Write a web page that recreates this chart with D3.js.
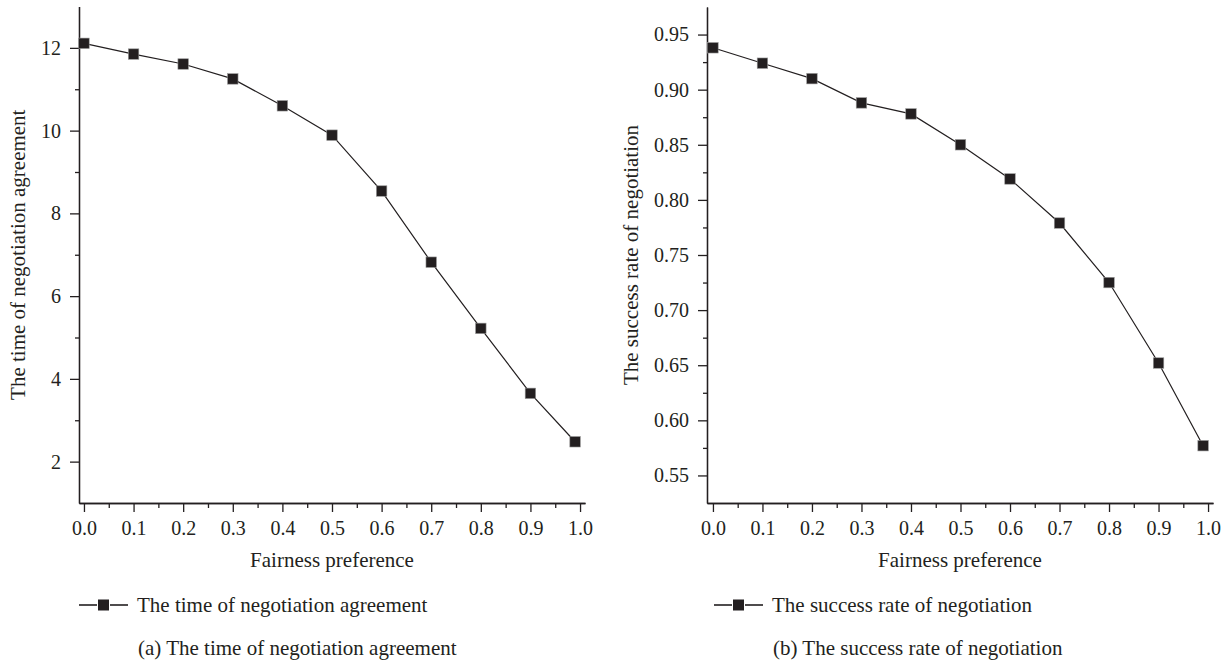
<!DOCTYPE html>
<html>
<head>
<meta charset="utf-8">
<script src="https://cdn.jsdelivr.net/npm/d3@7"></script>
<style>
    body { margin: 0; background: #fff; }
    svg { display: block; }
    text { font-family: "Liberation Serif", "Times New Roman", serif; fill: #231f20; }
</style>
</head>
<body>
<svg id="chart" width="1232" height="665"></svg>
<script>
// fairness preference (x) shared by both panels
var fairness = [0.0, 0.1, 0.2, 0.3, 0.4, 0.5, 0.6, 0.7, 0.8, 0.9, 0.99];
var agreementTime = [12.11, 11.85, 11.61, 11.25, 10.6, 9.89, 8.54, 6.82, 5.22, 3.65, 2.48];
var successRate = [0.938, 0.924, 0.910, 0.888, 0.878, 0.850, 0.819, 0.779, 0.725, 0.652, 0.577];

var xTicks = [0.0, 0.1, 0.2, 0.3, 0.4, 0.5, 0.6, 0.7, 0.8, 0.9, 1.0];
var xMinorTicks = [0.05, 0.15, 0.25, 0.35, 0.45, 0.55, 0.65, 0.75, 0.85, 0.95];
var timeTicks = [2, 4, 6, 8, 10, 12];
var timeMinorTicks = [3, 5, 7, 9, 11];
var rateTicks = [0.55, 0.60, 0.65, 0.70, 0.75, 0.80, 0.85, 0.90, 0.95];
var rateMinorTicks = [0.575, 0.625, 0.675, 0.725, 0.775, 0.825, 0.875, 0.925];

var INK = '#231f20';
var svg = d3.select('#chart');

var panels = [
    {
        values: agreementTime,
        xDomain: [-0.01, 1.01], xRange: [79, 585],
        yDomain: [1, 13], yRange: [503, 6.5],
        yTicks: timeTicks, yMinor: timeMinorTicks, yFormat: d3.format('d'),
        yTitle: 'The time of negotiation agreement', yTitleX: 25,
        legend: 'The time of negotiation agreement', legendX: 79,
        caption: '(a) The time of negotiation agreement', captionX: 138
    },
    {
        values: successRate,
        xDomain: [-0.012, 1.01], xRange: [707, 1213],
        yDomain: [0.525, 0.975], yRange: [503, 7],
        yTicks: rateTicks, yMinor: rateMinorTicks, yFormat: d3.format('.2f'),
        yTitle: 'The success rate of negotiation', yTitleX: 638,
        legend: 'The success rate of negotiation', legendX: 714,
        caption: '(b) The success rate of negotiation', captionX: 773
    }
];

function styleAxis(g) {
    g.select('.domain').attr('stroke', INK).attr('stroke-width', 1.3);
    g.selectAll('.tick line').attr('stroke', INK).attr('stroke-width', 1.3);
    g.selectAll('.tick text')
        .style('font-size', '20px')
        .attr('fill', INK);
}

function drawPanel(p) {
    var x = d3.scaleLinear().domain(p.xDomain).range(p.xRange);
    var y = d3.scaleLinear().domain(p.yDomain).range(p.yRange);
    var bottom = p.yRange[0];
    var left = p.xRange[0];

    // minor ticks first, then major ticks with labels
    svg.append('g')
        .attr('transform', 'translate(0,' + bottom + ')')
        .call(d3.axisBottom(x).tickValues(xMinorTicks).tickSize(5).tickFormat('').tickSizeOuter(0))
        .call(styleAxis);
    svg.append('g')
        .attr('transform', 'translate(0,' + bottom + ')')
        .call(d3.axisBottom(x).tickValues(xTicks).tickSize(9).tickPadding(9)
            .tickFormat(d3.format('.1f')).tickSizeOuter(0))
        .call(styleAxis);

    svg.append('g')
        .attr('transform', 'translate(' + left + ',0)')
        .call(d3.axisLeft(y).tickValues(p.yMinor).tickSize(4).tickFormat('').tickSizeOuter(0))
        .call(styleAxis);
    svg.append('g')
        .attr('transform', 'translate(' + left + ',0)')
        .call(d3.axisLeft(y).tickValues(p.yTicks).tickSize(9).tickPadding(9)
            .tickFormat(p.yFormat).tickSizeOuter(0))
        .call(styleAxis);

    // axis titles
    svg.append('text')
        .attr('x', (p.xRange[0] + p.xRange[1]) / 2)
        .attr('y', 567)
        .attr('text-anchor', 'middle')
        .style('font-size', '21px')
        .text('Fairness preference');

    var midY = (p.yRange[0] + p.yRange[1]) / 2;
    svg.append('text')
        .attr('transform', 'translate(' + p.yTitleX + ',' + midY + ') rotate(-90)')
        .attr('text-anchor', 'middle')
        .style('font-size', '21px')
        .text(p.yTitle);

    // series
    var pts = fairness.map(function (f, i) { return [f, p.values[i]]; });
    var line = d3.line()
        .x(function (d) { return x(d[0]); })
        .y(function (d) { return y(d[1]); });

    svg.append('path')
        .datum(pts)
        .attr('fill', 'none')
        .attr('stroke', INK)
        .attr('stroke-width', 1.2)
        .attr('d', line);

    var m = 10.5; // marker size
    svg.append('g').selectAll('rect')
        .data(pts)
        .enter().append('rect')
        .attr('x', function (d) { return x(d[0]) - m / 2; })
        .attr('y', function (d) { return y(d[1]) - m / 2; })
        .attr('width', m)
        .attr('height', m)
        .attr('fill', INK)
        .attr('stroke', '#9a9a9a')
        .attr('stroke-width', 0.6);

    // legend: dash, square, dash, label
    var ly = 605;
    var lg = svg.append('g');
    [[0, 18], [31, 49]].forEach(function (seg) {
        lg.append('line')
            .attr('x1', p.legendX + seg[0]).attr('x2', p.legendX + seg[1])
            .attr('y1', ly).attr('y2', ly)
            .attr('stroke', INK).attr('stroke-width', 1.6);
    });
    lg.append('rect')
        .attr('x', p.legendX + 24.5 - 5.5).attr('y', ly - 5.5)
        .attr('width', 11).attr('height', 11)
        .attr('fill', INK);
    lg.append('text')
        .attr('x', p.legendX + 58)
        .attr('y', 612)
        .style('font-size', '21px')
        .text(p.legend);

    // caption under the panel
    svg.append('text')
        .attr('x', p.captionX)
        .attr('y', 655)
        .style('font-size', '21px')
        .text(p.caption);
}

panels.forEach(drawPanel);
</script>
</body>
</html>
